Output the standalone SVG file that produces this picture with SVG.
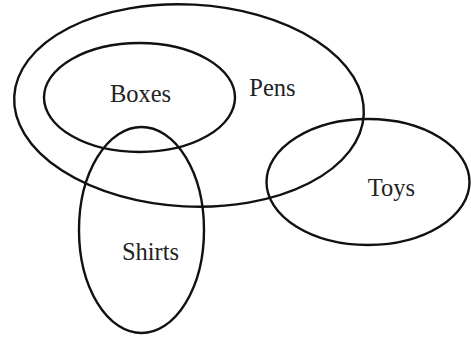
<svg xmlns="http://www.w3.org/2000/svg" width="471" height="337" viewBox="0 0 471 337">
<style>
.set{fill:none;stroke:#111;stroke-width:2.4}
.lbl{font-family:"Liberation Serif","Times New Roman",serif;font-size:24.5px;fill:#222;text-anchor:middle}
</style>
<rect width="471" height="337" fill="#fff"/>
<g id="pens"><ellipse class="set" cx="189" cy="105.5" rx="175" ry="101" transform="rotate(3 189 105.5)"/><text class="lbl" x="272.5" y="96">Pens</text></g>
<g id="boxes"><ellipse class="set" cx="139.5" cy="97.5" rx="95.5" ry="54.5"/><text class="lbl" x="140.5" y="102">Boxes</text></g>
<g id="shirts"><ellipse class="set" cx="141.5" cy="230" rx="62.5" ry="103"/><text class="lbl" x="150.5" y="260">Shirts</text></g>
<g id="toys"><ellipse class="set" cx="368" cy="182" rx="101.5" ry="63"/><text class="lbl" x="391.5" y="195.5">Toys</text></g>
<g id="connectors"/>
</svg>
